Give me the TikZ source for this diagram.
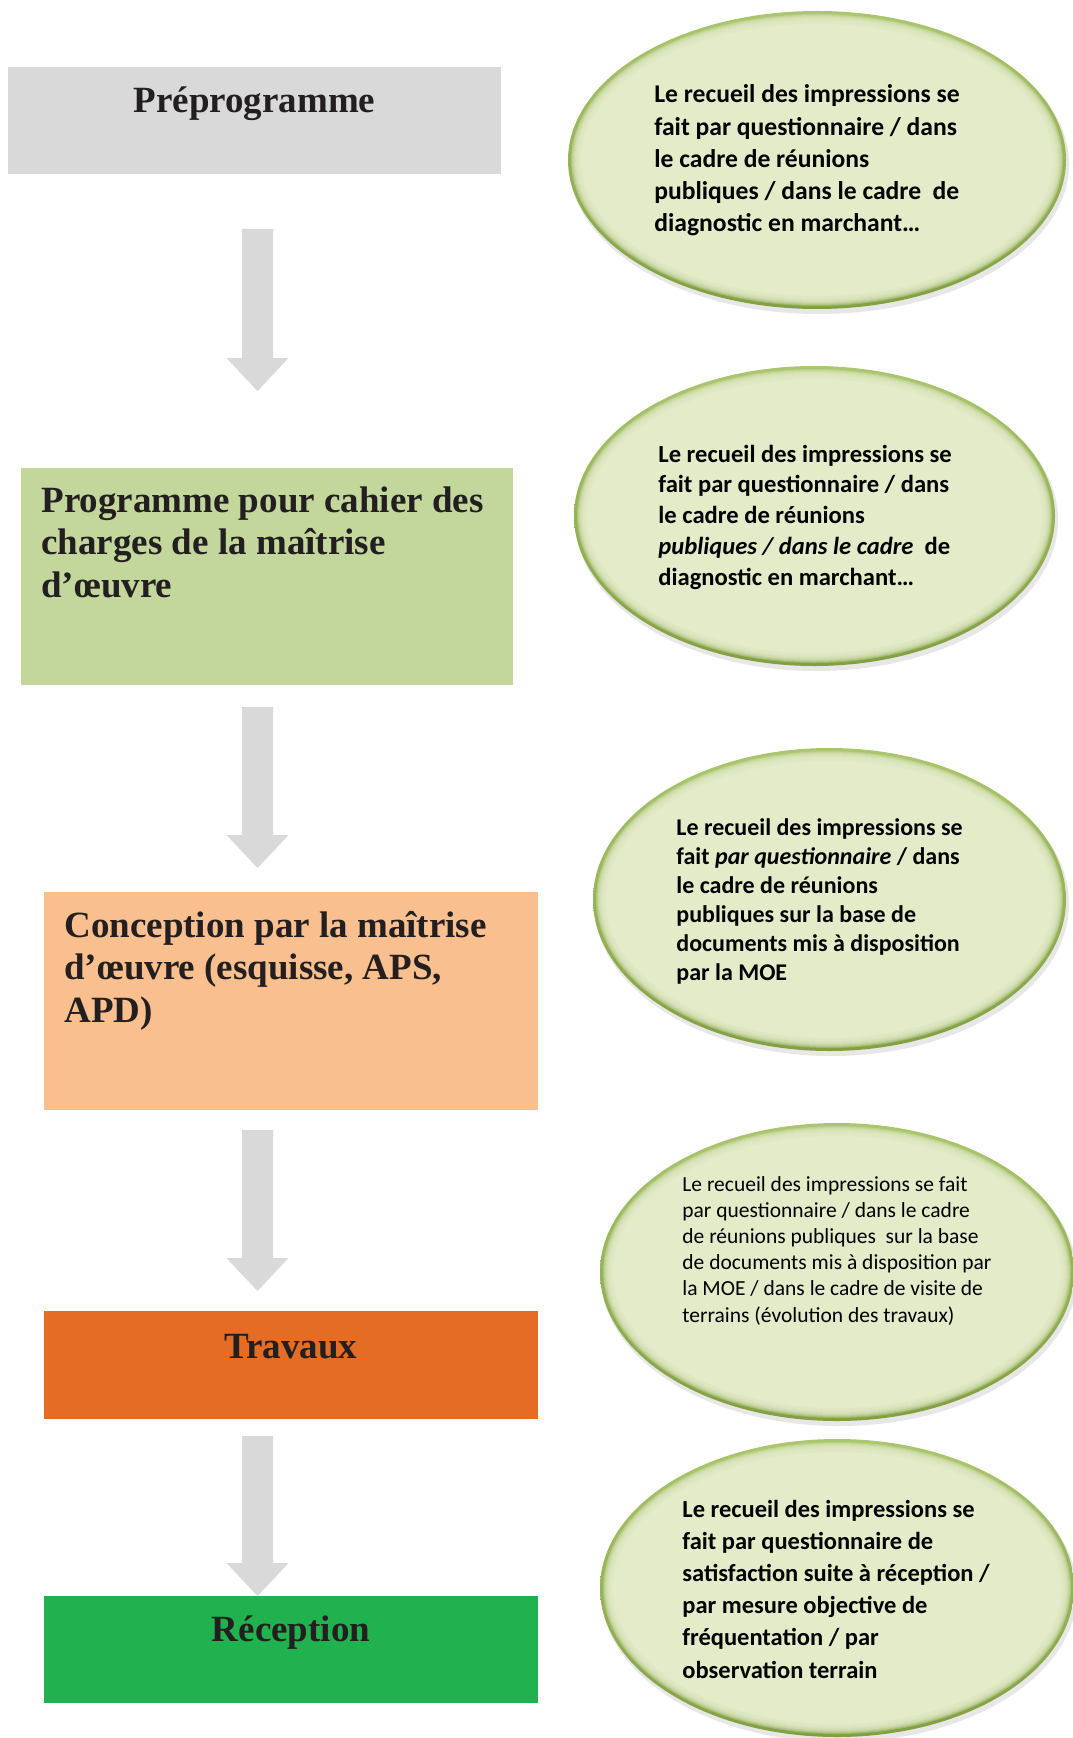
\documentclass[tikz,border=0pt]{standalone}
\usepackage{fontspec}
\setmainfont{Liberation Serif}
\newfontfamily\calfont{Carlito}
\usetikzlibrary{calc}
\definecolor{txtdark}{HTML}{231F20}
\definecolor{cgray}{HTML}{D9D9D9}
\definecolor{cgreenl}{HTML}{C3D69B}
\definecolor{corangel}{HTML}{FABF8F}
\definecolor{corange}{HTML}{E46C24}
\definecolor{cgreen}{HTML}{21B14F}
\definecolor{ellfill}{HTML}{E3EBC9}
\definecolor{rimtop}{HTML}{ABC66E}
\definecolor{rimbot}{HTML}{82A042}
\newcommand\bevelell[3]{%
  \fill[black!30, opacity=0.3] ($(#1)+(2,4)$) ellipse [x radius={(#2+1)*0.5pt}, y radius={(#3+1)*0.5pt}];
  \shade[top color=rimtop, bottom color=rimbot] (#1) ellipse [x radius={(#2)*0.5pt}, y radius={(#3)*0.5pt}];
  \foreach \k in {1,...,10} {\fill[ellfill, opacity=0.3] (#1) ellipse [x radius={(#2-2-\k)*0.5pt}, y radius={(#3-2-\k)*0.5pt}];}
  \fill[ellfill] (#1) ellipse [x radius={(#2-13)*0.5pt}, y radius={(#3-13)*0.5pt}];
}
\newcommand\blockarrow[2]{%
  \fill[cgray] ($(#1)+(-15.5,0)$) -- ($(#1)+(15.5,0)$) -- ($(#1 |- #2)+(15.5,-33)$) -- ($(#1 |- #2)+(31,-33)$)
    -- (#2) -- ($(#1 |- #2)+(-31,-33)$) -- ($(#1 |- #2)+(-15.5,-33)$) -- cycle;
}
\newenvironment{lines}{\begin{tabular}[t]{@{}l@{}}}{\end{tabular}}
\begin{document}
\begin{tikzpicture}[x=0.5pt,y=-0.5pt,
  box/.style={rectangle, draw=none, inner sep=0pt, outer sep=0pt, anchor=north west},
  boxtxt/.style={inner sep=0pt, text=txtdark, font=\fontsize{18.5}{21.3}\selectfont\bfseries},
  elltxt/.style={inner sep=0pt, text=black, anchor=base west}]
\useasboundingbox (0,0) rectangle (1072,1738);
\fill[white] (0,0) rectangle (1072,1738);
% boxes
\node[box, fill=cgray,   minimum width=246.5pt, minimum height=53.5pt] (b1) at (8,67) {};
\node[box, fill=cgreenl, minimum width=246pt,   minimum height=108.5pt] (b2) at (21,468) {};
\node[box, fill=corangel,minimum width=247pt,   minimum height=109pt] (b3) at (44,892) {};
\node[box, fill=corange, minimum width=247pt,   minimum height=54pt] (b4) at (44,1311) {};
\node[box, fill=cgreen,  minimum width=247pt,   minimum height=53.5pt] (b5) at (44,1596) {};
% box texts
\node[boxtxt, anchor=base] (t1) at (254.5,113) {Préprogramme};
\node[boxtxt, anchor=base west] (t2) at (41,512) {\begin{lines}Programme pour cahier des\\charges de la maîtrise\\d’œuvre\end{lines}};
\node[boxtxt, anchor=base west] (t3) at (64,937) {\begin{lines}Conception par la maîtrise\\d’œuvre (esquisse, APS,\\APD)\end{lines}};
\node[boxtxt, anchor=base] (t4) at (291,1358) {Travaux};
\node[boxtxt, anchor=base] (t5) at (291,1641) {Réception};
% arrows
\coordinate (a1s) at (257.5,229);  \coordinate (a1e) at (257.5,391);
\coordinate (a2s) at (257.5,707);  \coordinate (a2e) at (257.5,868);
\coordinate (a3s) at (257.5,1130); \coordinate (a3e) at (257.5,1291);
\coordinate (a4s) at (257.5,1436); \coordinate (a4e) at (257.5,1596);
\blockarrow{a1s}{a1e}
\blockarrow{a2s}{a2e}
\blockarrow{a3s}{a3e}
\blockarrow{a4s}{a4e}
% ellipses
\coordinate (e1) at (817,160);
\coordinate (e2) at (814.5,516);
\coordinate (e3) at (829.5,899.5);
\coordinate (e4) at (837,1272);
\coordinate (e5) at (837,1588);
\bevelell{e1}{249}{149}
\bevelell{e2}{240.5}{150}
\bevelell{e3}{236.5}{151.5}
\bevelell{e4}{237}{149}
\bevelell{e5}{237}{149}
\node[elltxt, font=\calfont\bfseries\fontsize{12.8}{16.1}\selectfont] (et1) at (654,103)
 {\begin{lines}Le recueil des impressions se\\fait par questionnaire / dans\\le cadre de réunions\\publiques / dans le cadre~ de\\diagnostic en marchant\dots\end{lines}};
\node[elltxt, font=\calfont\bfseries\fontsize{12.3}{15.4}\selectfont] (et2) at (658,462)
 {\begin{lines}Le recueil des impressions se\\fait par questionnaire / dans\\le cadre de réunions\\\textit{publiques / dans le cadre}~ de\\diagnostic en marchant\dots\end{lines}};
\node[elltxt, font=\calfont\bfseries\fontsize{12}{14.5}\selectfont] (et3) at (676,835)
 {\begin{lines}Le recueil des impressions se\\fait \textit{par questionnaire} / dans\\le cadre de réunions\\publiques sur la base de\\documents mis à disposition\\par la MOE\end{lines}};
\node[elltxt, font=\calfont\fontsize{10.75}{13.1}\selectfont] (et4) at (682,1191)
 {\begin{lines}Le recueil des impressions se fait\\par questionnaire / dans le cadre\\de réunions publiques~ sur la base\\de documents mis à disposition par\\la MOE / dans le cadre de visite de\\terrains (évolution des travaux)\end{lines}};
\node[elltxt, font=\calfont\bfseries\fontsize{12.25}{16.1}\selectfont] (et5) at (682,1517)
 {\begin{lines}Le recueil des impressions se\\fait par questionnaire de\\satisfaction suite à réception /\\par mesure objective de\\fréquentation / par\\observation terrain\end{lines}};
\end{tikzpicture}
\end{document}
